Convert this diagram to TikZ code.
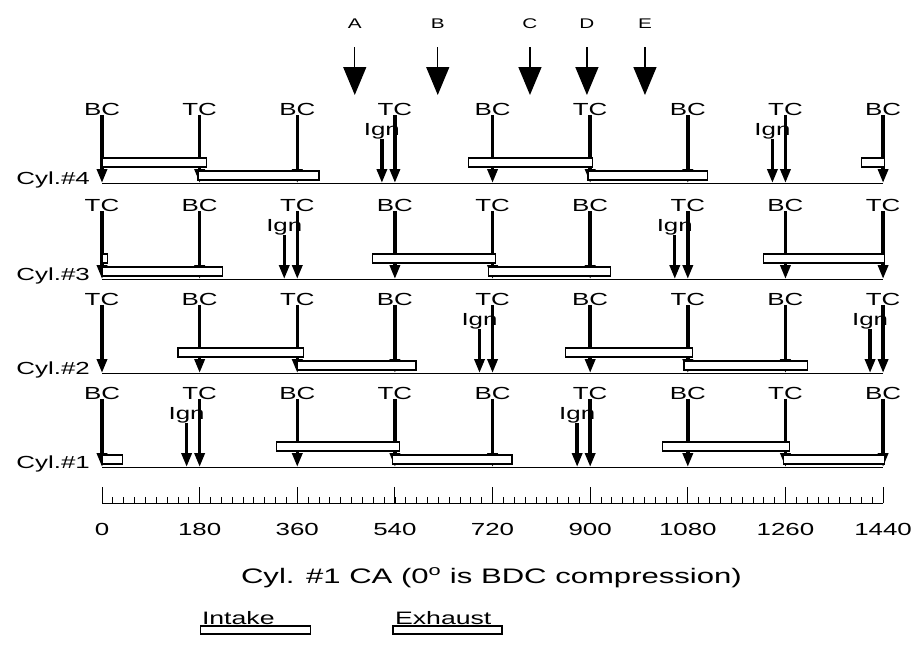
\documentclass[tikz,border=0pt]{standalone}
\usepackage{fontspec}
\setmainfont{Liberation Sans}[FakeStretch=1.48]
\usetikzlibrary{arrows.meta}

\tikzset{
  ptxt/.style={inner sep=0pt, anchor=base, font=\fontsize{17.5}{19}\selectfont},
  toptxt/.style={inner sep=0pt, anchor=base, font=\fontsize{14}{16}\selectfont},
  strk/.style={line width=3.4pt, -{Triangle[length=14pt,width=10pt]}},
  evt/.style={line width=1.4pt, -{Triangle[length=28pt,width=23pt]}},
  vlv/.style={draw, fill=white, line width=1.2pt},
}
% valve boxes: baseline, open, close
\newcommand\exhbox[3]{\draw[vlv] (#2,#1-25) rectangle (#3,#1-16);}
\newcommand\intbox[3]{\draw[vlv] (#2,#1-12) rectangle (#3,#1-3);}

\begin{document}
\begin{tikzpicture}[x=0.5424pt, y={(0pt,-1pt)}]
  \useasboundingbox (-188.05,0) rectangle (1500.7,648);

  % events A--E
  \foreach \n/\c in {A/466,B/619,C/789,D/894,E/1001}{
    \node[toptxt] (ev\n) at (\c,28) {\n};
    \coordinate (evt\n) at (\c,95);
    \draw[evt, shorten <=19pt] (ev\n.south) -- (evt\n);
  }

  % cylinders
  \foreach \r/\b/\s/\ia/\ib in {4/183/0/540/1260, 3/279/1/360/1080,
                                2/373/1/720/1440, 1/467/0/180/900}{
    \node[inner sep=0pt, anchor=base east, font=\fontsize{17.5}{19}\selectfont]
      (cyl\r) at (-22,\b+1) {Cyl.\#\r};
    \draw[line width=0.9pt] (0,\b) -- (1440,\b);
    \foreach \g [count=\j] in {\ia,\ib}{
      \node[ptxt] (ign\r-\j) at (\g-24,\b-48) {Ign};
      \coordinate (igne\r-\j) at (\g-24,\b);
      \draw[strk] (ign\r-\j.south) -- (igne\r-\j);
    }
    \foreach \k in {0,...,8}{
      \pgfmathparse{int(mod(\k+\s,2))}
      \ifnum\pgfmathresult=0 \def\lbl{BC}\else\def\lbl{TC}\fi
      \node[ptxt] (lbl\r-\k) at (\k*180,\b-68) {\lbl};
      \coordinate (end\r-\k) at (\k*180,\b);
      \draw[strk] (lbl\r-\k.south) -- (end\r-\k);
    }
  }

  % valve timing
  \exhbox{183}{0}{192}    \intbox{183}{177}{400}
  \exhbox{183}{676}{904}  \intbox{183}{896}{1117}
  \exhbox{183}{1400}{1442}
  \exhbox{279}{0}{10}     \intbox{279}{0}{222}
  \exhbox{279}{498}{726}  \intbox{279}{712}{937}
  \exhbox{279}{1219}{1442}
  \exhbox{373}{140}{372}  \intbox{373}{360}{579}
  \exhbox{373}{855}{1088} \intbox{373}{1073}{1300}
  \exhbox{467}{321}{549}  \intbox{467}{0}{38}
  \intbox{467}{536}{756}
  \exhbox{467}{1034}{1268} \intbox{467}{1256}{1442}

  % crank angle axis
  \draw[line width=0.9pt] (0,503) -- (1440,503);
  \foreach \t in {0,20,...,1440} \draw[line width=0.8pt] (\t,503) -- (\t,497);
  \foreach \t in {0,180,...,1440}{
    \draw[line width=0.9pt] (\t,503) -- (\t,487);
    \node[ptxt] (ax\t) at (\t,535) {\t};
  }
  \node[inner sep=0pt, anchor=base, font=\fontsize{21}{23}\selectfont] (cap)
    at (718,583) {Cyl. \#1 CA (0\textsuperscript{o} is BDC compression)};

  % legend
  \node[inner sep=0pt, anchor=base west, font=\fontsize{18}{20}\selectfont]
    (lgi) at (184,624) {Intake};
  \draw[vlv] (181.5,626) rectangle (384,634);
  \node[inner sep=0pt, anchor=base west, font=\fontsize{18}{20}\selectfont]
    (lge) at (540,624) {Exhaust};
  \draw[vlv] (536.5,626) rectangle (737.5,634);
\end{tikzpicture}
\end{document}
